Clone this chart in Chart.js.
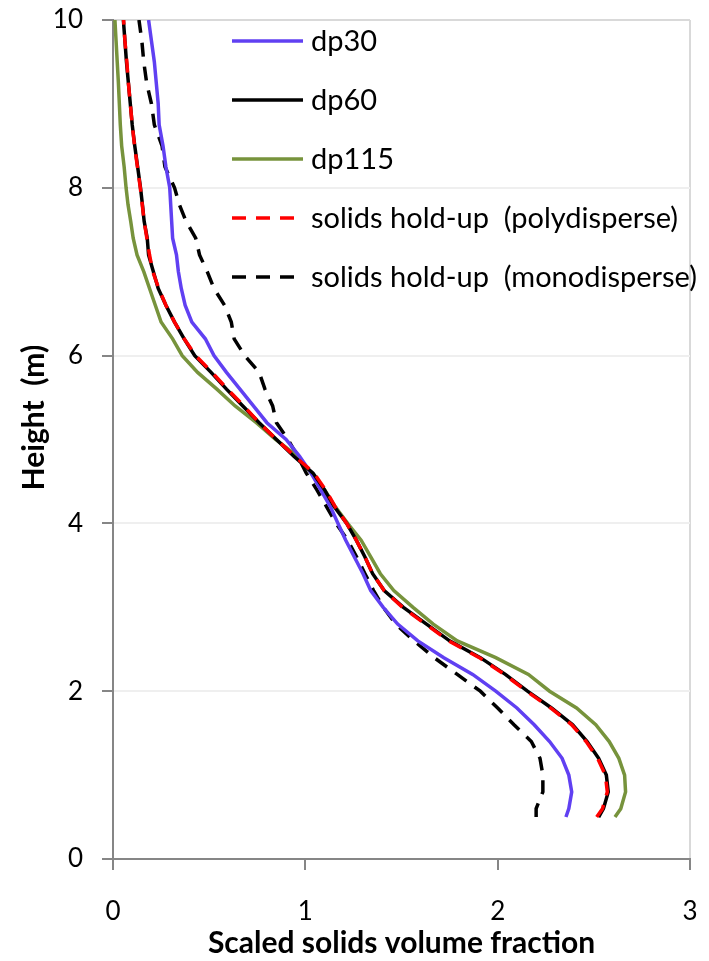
<!DOCTYPE html>
<html>
<head>
<meta charset="utf-8">
<script src="https://cdn.jsdelivr.net/npm/chart.js@4.4.1/dist/chart.umd.min.js"></script>
<style>
  html, body { margin: 0; padding: 0; background: #fff; }
  #wrap { width: 709px; height: 961px; position: relative; }
</style>
</head>
<body>
<div id="wrap"><canvas id="c" width="709" height="961"></canvas></div>
<script>
// Height (m) at which every series is read
const heights = [0.5, 0.6, 0.8, 1.0, 1.2, 1.4, 1.6, 1.8, 2.0, 2.2, 2.4, 2.6, 2.8, 3.0, 3.2, 3.4, 3.6, 3.8, 4.0, 4.2, 4.4, 4.6, 4.8, 5.0, 5.2, 5.4, 5.6, 5.8, 6.0, 6.2, 6.4, 6.6, 6.8, 7.0, 7.2, 7.4, 7.6, 7.8, 8.0, 8.25, 8.5, 8.75, 9.0, 9.25, 9.5, 9.75, 10.0];

// Scaled solids volume fraction for each series
const dp30 = [2.355, 2.37, 2.385, 2.37, 2.335, 2.27, 2.19, 2.10, 1.99, 1.87, 1.72, 1.585, 1.48, 1.405, 1.34, 1.30, 1.255, 1.21, 1.17, 1.13, 1.08, 1.03, 0.97, 0.90, 0.80, 0.73, 0.66, 0.59, 0.525, 0.48, 0.41, 0.375, 0.355, 0.34, 0.33, 0.31, 0.305, 0.30, 0.295, 0.275, 0.26, 0.24, 0.235, 0.225, 0.215, 0.20, 0.185];
const dp60 = [2.525, 2.55, 2.575, 2.565, 2.525, 2.465, 2.39, 2.28, 2.155, 2.04, 1.91, 1.75, 1.63, 1.51, 1.41, 1.35, 1.31, 1.265, 1.215, 1.15, 1.10, 1.04, 0.94, 0.85, 0.76, 0.675, 0.59, 0.51, 0.425, 0.37, 0.32, 0.275, 0.235, 0.21, 0.185, 0.178, 0.162, 0.153, 0.143, 0.128, 0.113, 0.10, 0.09, 0.08, 0.07, 0.062, 0.054];
const dp115 = [2.61, 2.64, 2.665, 2.66, 2.63, 2.58, 2.51, 2.41, 2.27, 2.16, 1.99, 1.79, 1.665, 1.56, 1.46, 1.39, 1.34, 1.29, 1.22, 1.155, 1.10, 1.03, 0.96, 0.845, 0.745, 0.635, 0.54, 0.44, 0.36, 0.31, 0.25, 0.22, 0.19, 0.16, 0.125, 0.105, 0.092, 0.078, 0.068, 0.058, 0.045, 0.038, 0.033, 0.028, 0.022, 0.016, 0.01];
const holdupPoly = [2.515, 2.545, 2.57, 2.56, 2.52, 2.46, 2.385, 2.275, 2.15, 2.035, 1.905, 1.745, 1.625, 1.505, 1.41, 1.35, 1.31, 1.265, 1.215, 1.155, 1.105, 1.045, 0.945, 0.85, 0.76, 0.68, 0.595, 0.515, 0.43, 0.37, 0.32, 0.275, 0.238, 0.207, 0.19, 0.176, 0.162, 0.152, 0.142, 0.127, 0.112, 0.10, 0.09, 0.08, 0.072, 0.062, 0.055];
const holdupMono = [2.20, 2.20, 2.235, 2.235, 2.22, 2.175, 2.085, 2.00, 1.91, 1.79, 1.67, 1.565, 1.47, 1.405, 1.355, 1.31, 1.267, 1.22, 1.16, 1.11, 1.06, 1.005, 0.96, 0.91, 0.85, 0.83, 0.79, 0.76, 0.685, 0.63, 0.615, 0.58, 0.525, 0.49, 0.45, 0.43, 0.38, 0.345, 0.32, 0.27, 0.255, 0.215, 0.20, 0.175, 0.16, 0.15, 0.135];

const seriesNames = ['dp30', 'dp60', 'dp115', 'solids hold-up  (polydisperse)', 'solids hold-up  (monodisperse)'];
const xTicks = [0, 1, 2, 3];
const yTicks = [0, 2, 4, 6, 8, 10];
const xTitle = 'Scaled solids volume fraction';
const yTitle = '      Height  (m)';

const FONT = 'Lato, "Liberation Sans", sans-serif';

function pts(xs) { return xs.map((v, i) => ({ x: v, y: heights[i] })); }

const styles = [
  { color: '#6040F2', dash: [], order: 3 },
  { color: '#000000', dash: [], order: 2 },
  { color: '#77933C', dash: [], order: 4 },
  { color: '#FF0000', dash: [14, 10], order: 1 },
  { color: '#000000', dash: [14, 10], order: 5 }
];
const values = [dp30, dp60, dp115, holdupPoly, holdupMono];

const datasets = values.map((vals, i) => ({
  label: seriesNames[i],
  data: pts(vals),
  showLine: true,
  borderColor: styles[i].color,
  backgroundColor: styles[i].color,
  borderWidth: 3.5,
  borderDash: styles[i].dash,
  pointRadius: 0,
  tension: 0,
  fill: false,
  order: styles[i].order
}));

const insideLegend = {
  id: 'insideLegend',
  afterDraw(chart) {
    const ctx = chart.ctx;
    ctx.save();
    ctx.font = '29px ' + FONT;
    ctx.textBaseline = 'middle';
    ctx.textAlign = 'left';
    chart.data.datasets.forEach((ds, i) => {
      const y = 41 + i * 59;
      ctx.beginPath();
      ctx.strokeStyle = ds.borderColor;
      ctx.lineWidth = ds.borderWidth;
      ctx.setLineDash(ds.borderDash || []);
      ctx.moveTo(232, y);
      ctx.lineTo(303, y);
      ctx.stroke();
      ctx.setLineDash([]);
      ctx.fillStyle = '#000';
      ctx.fillText(ds.label, 311, y + 1);
    });
    ctx.restore();
  }
};

new Chart(document.getElementById('c'), {
  type: 'scatter',
  data: { datasets },
  plugins: [insideLegend],
  options: {
    responsive: false,
    animation: false,
    layout: { autoPadding: false, padding: { top: 20, right: 19, left: 0, bottom: 0 } },
    plugins: { legend: { display: false }, tooltip: { enabled: false } },
    scales: {
      x: {
        type: 'linear',
        min: 0, max: 3,
        afterBuildTicks(scale) { scale.ticks = xTicks.map(v => ({ value: v })); },
        afterFit(scale) { scale.height = 102; scale.paddingLeft = 0; scale.paddingRight = 0; },
        border: { display: true, color: '#868686', width: 2 },
        grid: {
          drawOnChartArea: true,
          color: ctx => (ctx.tick && ctx.tick.value === 3) ? '#D9D9D9' : 'rgba(0,0,0,0)',
          lineWidth: 2,
          tickColor: '#868686',
          tickLength: 11,
          tickWidth: 2
        },
        ticks: { color: '#000', font: { family: FONT, size: 26 }, padding: 26 },
        title: {
          display: true, text: xTitle, color: '#000',
          font: { family: FONT, size: 30, weight: 'bold' },
          padding: { top: 0, bottom: 0 }
        }
      },
      y: {
        type: 'linear',
        min: 0, max: 10,
        afterBuildTicks(scale) { scale.ticks = yTicks.map(v => ({ value: v })); },
        afterFit(scale) { scale.width = 113; scale.paddingTop = 0; scale.paddingBottom = 0; },
        border: { display: true, color: '#868686', width: 2 },
        grid: {
          color: ctx => (ctx.tick && ctx.tick.value === 10) ? '#D9D9D9' : '#EFEFEF',
          lineWidth: 2,
          tickColor: '#868686',
          tickLength: 11,
          tickWidth: 2
        },
        ticks: { color: '#000', font: { family: FONT, size: 26 }, padding: 19 },
        title: {
          display: true, text: yTitle, color: '#000',
          font: { family: FONT, size: 30, weight: 'bold' },
          padding: { top: 16, bottom: 0 }
        }
      }
    }
  }
});
</script>
</body>
</html>
